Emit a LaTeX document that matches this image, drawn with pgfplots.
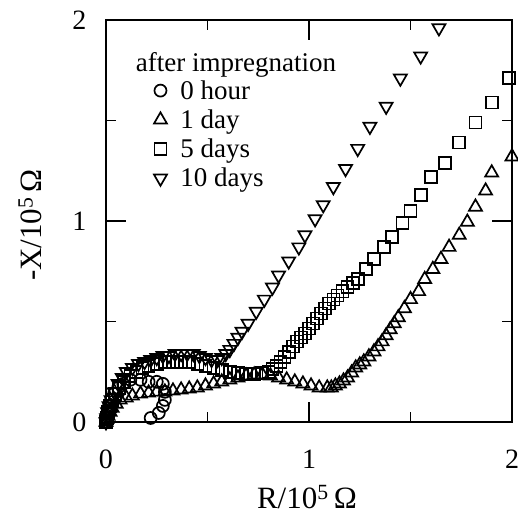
\documentclass[border=0pt]{standalone}
\usepackage{fontspec}
\setmainfont{Liberation Serif}
\usepackage{pgfplots}
\pgfplotsset{compat=1.18}
\begin{document}
\begin{tikzpicture}
\begin{axis}[
  scale only axis, width=406pt, height=402pt,
  xmin=0, xmax=2, ymin=0, ymax=2,
  xtick={0,1,2}, ytick={0,1,2},
  minor xtick={0.5,1.5}, minor ytick={0.5,1.5},
  tick align=inside, major tick length=20pt, minor tick length=10pt,
  axis line style={line width=1.6pt},
  every tick/.append style={line width=1.6pt, black},
  /pgf/number format/assume math mode=true,
  tick label style={font=\fontsize{28}{28}\selectfont},
  xticklabel style={yshift=-24pt},
  yticklabel style={xshift=-16pt},
  xlabel={R/10\textsuperscript{5}\,Ω}, ylabel={-X/10\textsuperscript{5}\,Ω},
  label style={font=\fontsize{31}{31}\selectfont},
  xlabel style={at={(axis description cs:0.495,-0.187)}, anchor=center},
  ylabel style={at={(axis description cs:-0.187,0.49)}, anchor=center},
  clip=false,
  legend style={at={(axis cs:0.228,1.71)}, anchor=north west, draw=none, fill=none,
    font=\fontsize{27}{27}\selectfont, row sep=5pt, inner sep=0pt},
  legend cell align=left,
  legend image code/.code={\path[draw=none] (0pt,0pt) -- (26pt,0pt); \draw[#1] plot coordinates {(8pt,0pt)};},
  every axis plot/.append style={only marks, black},
]
% 0 hour
\addplot[mark=o, mark size=6pt, mark options={solid, fill=none, line width=1.7pt}] coordinates {
(0,0)(0.003,0.02)(0.008,0.05)(0.015,0.08)(0.025,0.11)(0.04,0.14)(0.06,0.17)(0.085,0.19)
(0.12,0.21)(0.17,0.21)(0.21,0.20)(0.25,0.20)(0.28,0.19)(0.29,0.15)(0.29,0.11)(0.28,0.08)
(0.26,0.045)(0.22,0.02)
};
\addlegendentry{0 hour}
% 1 day
\addplot[mark=triangle, mark size=7.5pt, mark options={solid, fill=none, line width=1.7pt}] coordinates {
(0,0)(0.005,0.015)(0.01,0.03)(0.02,0.05)(0.03,0.07)(0.05,0.09)(0.07,0.11)(0.10,0.12)
(0.13,0.13)(0.17,0.14)(0.21,0.145)(0.25,0.15)(0.29,0.15)(0.33,0.155)(0.37,0.16)(0.41,0.165)
(0.45,0.17)(0.49,0.18)(0.53,0.19)(0.57,0.20)(0.61,0.21)(0.65,0.22)(0.69,0.23)(0.73,0.235)
(0.77,0.235)(0.81,0.23)(0.85,0.22)(0.89,0.21)(0.93,0.20)(0.97,0.19)(1.01,0.18)(1.05,0.17)
(1.09,0.17)(1.11,0.17)(1.13,0.18)(1.15,0.19)(1.17,0.205)(1.19,0.22)(1.21,0.245)(1.23,0.27)
(1.25,0.285)(1.27,0.30)(1.295,0.325)(1.32,0.35)(1.34,0.375)(1.36,0.40)(1.38,0.43)(1.40,0.46)
(1.42,0.49)(1.44,0.52)(1.47,0.565)(1.50,0.61)(1.54,0.65)(1.57,0.71)(1.61,0.76)(1.65,0.81)
(1.69,0.87)(1.74,0.93)(1.78,0.995)(1.82,1.07)(1.87,1.15)(1.90,1.24)(2.0,1.32)
};
\addlegendentry{1 day}
% 5 days
\addplot[mark=square, mark size=6pt, mark options={solid, fill=none, line width=1.7pt}] coordinates {
(0,0)(0.004,0.02)(0.01,0.05)(0.02,0.08)(0.03,0.11)(0.045,0.14)(0.065,0.17)(0.09,0.20)
(0.12,0.23)(0.15,0.25)(0.18,0.27)(0.21,0.28)(0.25,0.29)(0.29,0.30)(0.33,0.30)(0.37,0.30)
(0.41,0.30)(0.45,0.29)(0.49,0.28)(0.53,0.27)(0.57,0.26)(0.61,0.25)(0.65,0.245)(0.69,0.24)
(0.73,0.24)(0.77,0.245)(0.80,0.25)(0.82,0.265)(0.84,0.28)(0.86,0.30)(0.88,0.325)(0.90,0.35)
(0.92,0.375)(0.94,0.40)(0.96,0.42)(0.98,0.44)(1.00,0.465)(1.02,0.49)(1.04,0.515)(1.06,0.54)
(1.08,0.565)(1.10,0.59)(1.12,0.61)(1.14,0.63)(1.165,0.65)(1.19,0.67)(1.215,0.69)(1.24,0.71)
(1.28,0.76)(1.32,0.81)(1.37,0.87)(1.41,0.92)(1.46,0.99)(1.50,1.05)(1.55,1.13)(1.60,1.22)
(1.67,1.29)(1.74,1.39)(1.82,1.49)(1.90,1.59)(1.985,1.71)
};
\addlegendentry{5 days}
% 10 days
\addplot[mark=triangle, mark size=7.5pt, mark options={solid, fill=none, line width=1.7pt, rotate=180}] coordinates {
(0,0)(0.003,0.02)(0.008,0.05)(0.015,0.08)(0.025,0.11)(0.04,0.15)(0.06,0.19)(0.08,0.22)
(0.10,0.25)(0.13,0.27)(0.16,0.29)(0.19,0.30)(0.22,0.31)(0.25,0.32)(0.28,0.33)(0.31,0.33)
(0.34,0.34)(0.37,0.34)(0.40,0.34)(0.43,0.34)(0.46,0.33)(0.49,0.32)(0.52,0.31)(0.55,0.31)
(0.57,0.32)(0.59,0.34)(0.61,0.36)(0.63,0.39)(0.65,0.42)(0.67,0.45)(0.70,0.49)(0.74,0.55)
(0.78,0.61)(0.82,0.67)(0.85,0.73)(0.90,0.80)(0.95,0.87)(0.98,0.93)(1.03,1.01)(1.07,1.08)
(1.12,1.17)(1.18,1.26)(1.24,1.36)(1.30,1.47)(1.38,1.57)(1.45,1.71)(1.55,1.82)(1.64,1.96)
};
\addlegendentry{10 days}
\node[anchor=west, font=\fontsize{27}{27}\selectfont] at (axis cs:0.13,1.776) {after impregnation};
\end{axis}
\pgfresetboundingbox
\path ([xshift=-106pt,yshift=-94pt]current axis.south west) rectangle ++(518pt,516pt);
\end{tikzpicture}
\end{document}
